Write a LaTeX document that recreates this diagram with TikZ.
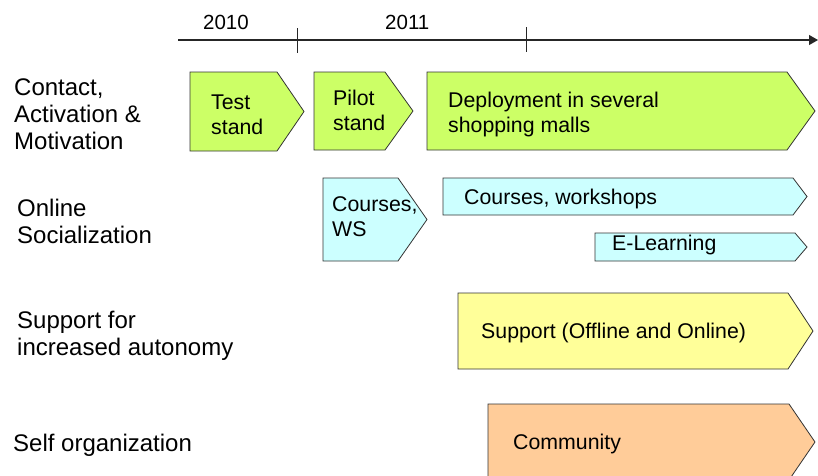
\documentclass[tikz,border=0pt]{standalone}
\usepackage{fontspec}
\setmainfont{Liberation Sans}
\usetikzlibrary{arrows.meta}

\definecolor{phasegreen}{HTML}{CCFF66}
\definecolor{phasecyan}{HTML}{CCFFFF}
\definecolor{phaseyellow}{HTML}{FFFF99}
\definecolor{phaseorange}{HTML}{FFCC99}

% pentagon arrow: left, top, bottom, right edge of body, tip x, fill colour
\newcommand\phasebox[6]{%
  \draw[phaseedge,fill=#6] (#1,#2) -- (#4,#2) -- (#5,{(#2+#3)/2}) -- (#4,#3) -- (#1,#3) -- cycle;}

\tikzset{
  phaseedge/.style={draw=black!80,line width=0.8pt,line join=miter},
  rowlabel/.style={anchor=base west,inner sep=0pt,font=\fontsize{24}{27}\selectfont},
  boxtext/.style={anchor=base west,inner sep=0pt,font=\fontsize{21.3}{25}\selectfont},
  yeartext/.style={anchor=base west,inner sep=0pt,font=\fontsize{20.5}{24}\selectfont},
  axisline/.style={line width=1.1pt,black!85},
}
\newcommand\lines[1]{\begin{tabular}[t]{@{}l@{}}#1\end{tabular}}

\begin{document}
\begin{tikzpicture}[x=1pt,y=-1pt]
\useasboundingbox (0,0) rectangle (818,475);
\begin{scope}
\clip (0,0) rectangle (818,475);

% time axis
\coordinate (axisstart) at (178,40);
\coordinate (axisend) at (818,40);
\draw[axisline,-{Triangle[length=9pt,width=10pt]}] (axisstart) -- (axisend);
\draw[line width=0.8pt,black!85] (297,28) -- (297,53);
\draw[line width=0.8pt,black!85] (526,27) -- (526,52);
\node[yeartext] (y2010) at (203,29) {2010};
\node[yeartext] (y2011) at (385,29) {2011};

% row labels
\node[rowlabel] (lcontact) at (14,95) {\lines{Contact,\\Activation \&\\Motivation}};
\node[rowlabel] (lonline) at (17,216) {\lines{Online\\Socialization}};
\node[rowlabel] (lsupport) at (17,328) {\lines{Support for\\increased autonomy}};
\node[rowlabel] (lself) at (13,451) {Self organization};

% contact, activation and motivation
\phasebox{190}{72}{151}{277}{304}{phasegreen}
\node[boxtext] (test) at (211,109) {\lines{Test\\stand}};
\phasebox{314}{72}{150}{385}{413}{phasegreen}
\node[boxtext] (pilot) at (333,105) {\lines{Pilot\\stand}};
\phasebox{427}{72}{150}{787}{815}{phasegreen}
\node[boxtext] (deploy) at (448,107) {\lines{Deployment in several\\shopping malls}};

% online socialization
\phasebox{323}{178}{261}{398}{427}{phasecyan}
\node[boxtext] (coursesws) at (332,211) {\lines{Courses,\\WS}};
\phasebox{443}{178}{215}{793}{807}{phasecyan}
\node[boxtext] (courses) at (464,204) {Courses, workshops};
\phasebox{595}{233}{261}{795}{807}{phasecyan}
\node[boxtext] (elearn) at (612,250) {E-Learning};

% support
\phasebox{458}{293}{369}{788}{813}{phaseyellow}
\node[boxtext] (support) at (481,338) {Support (Offline and Online)};

% self organization
\phasebox{488}{404}{480}{789}{815}{phaseorange}
\node[boxtext] (community) at (513,449) {Community};
\end{scope}
\end{tikzpicture}
\end{document}
